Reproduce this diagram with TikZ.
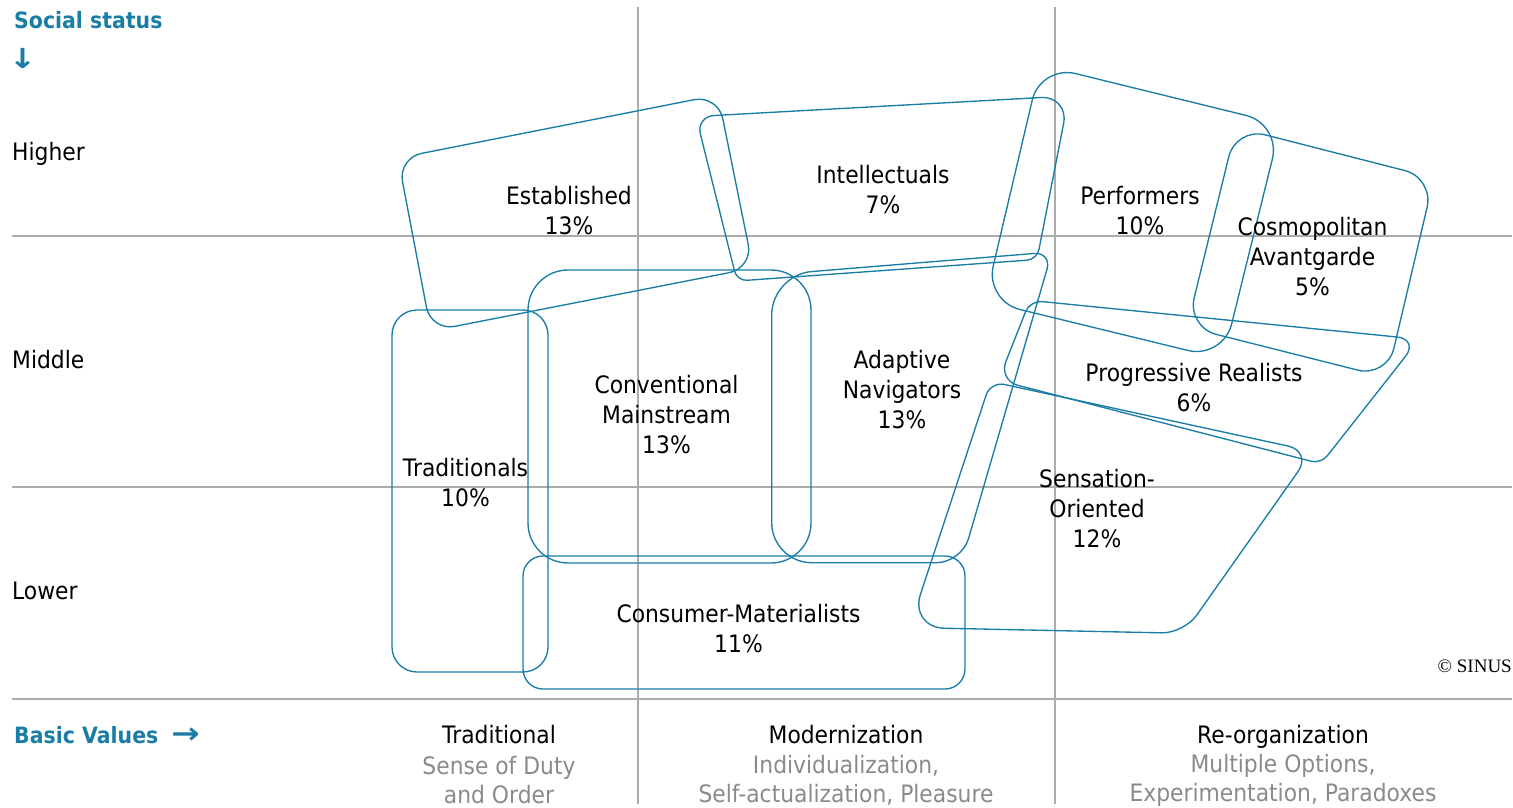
\documentclass[tikz,border=0pt]{standalone}
\usepackage{fontspec}
\setmainfont{DejaVu Sans}[FakeStretch=0.91]
\newfontfamily\serifsinus{Liberation Serif}
\usetikzlibrary{calc}
\definecolor{sblue}{RGB}{25,125,165}
\definecolor{gline}{RGB}{172,172,172}
\definecolor{gtext}{RGB}{138,138,138}
% rounded quadrilateral: 4 corner coordinates, 4 radii
\newcommand\rquad[8]{%
  \draw[shp]
  ($(#1)!#5pt!(#2)$) -- ($(#2)!#6pt!(#1)$)
  .. controls ($(#2)!0.45*#6pt!(#1)$) and ($(#2)!0.45*#6pt!(#3)$) .. ($(#2)!#6pt!(#3)$)
  -- ($(#3)!#7pt!(#2)$)
  .. controls ($(#3)!0.45*#7pt!(#2)$) and ($(#3)!0.45*#7pt!(#4)$) .. ($(#3)!#7pt!(#4)$)
  -- ($(#4)!#8pt!(#3)$)
  .. controls ($(#4)!0.45*#8pt!(#3)$) and ($(#4)!0.45*#8pt!(#1)$) .. ($(#4)!#8pt!(#1)$)
  -- ($(#1)!#5pt!(#4)$)
  .. controls ($(#1)!0.45*#5pt!(#4)$) and ($(#1)!0.45*#5pt!(#2)$) .. ($(#1)!#5pt!(#2)$)
  -- cycle;}
\begin{document}
\begin{tikzpicture}[x=1pt,y=-1pt,
  shp/.style={draw=sblue,line width=1.35pt},
  gridline/.style={draw=gline,line width=1.6pt},
  lbl/.style={align=center,inner sep=0pt,font=\fontsize{24}{30}\selectfont},
  side/.style={inner sep=0pt,anchor=base west,font=\fontsize{24}{30}\selectfont},
  head/.style={inner sep=0pt,anchor=base west,text=sblue,font=\fontsize{22.5}{28}\selectfont\bfseries},
  coltitle/.style={inner sep=0pt,anchor=base,font=\fontsize{24}{30}\selectfont},
  coldesc/.style={align=center,inner sep=0pt,text=gtext,font=\fontsize{24}{29}\selectfont}]
\useasboundingbox (0,0) rectangle (1513,808);

% grid
\draw[gridline] (638,7) -- (638,804);
\draw[gridline] (1055,7) -- (1055,804);
\draw[gridline] (12,236) -- (1512,236);
\draw[gridline] (12,487) -- (1512,487);
\draw[gridline] (12,699) -- (1512,699);

% corner coordinates
\coordinate (e1) at (398,158);   \coordinate (e2) at (718,95);
\coordinate (e3) at (753,268);   \coordinate (e4) at (431,331);
\coordinate (i1) at (696,116.5); \coordinate (i2) at (1069,96);
\coordinate (i3) at (1037,259.5);\coordinate (i4) at (737,281);
\coordinate (p1) at (1040.5,65); \coordinate (p2) at (1281,124);
\coordinate (p3) at (1223,359);  \coordinate (p4) at (985,301);
\coordinate (c1) at (1236,127.4);\coordinate (c2) at (1434,178);
\coordinate (c3) at (1387,377.5);\coordinate (c4) at (1187,327);
\coordinate (g1) at (1030,300.4);\coordinate (g2) at (1419,339.2);
\coordinate (g3) at (1321,463.8);\coordinate (g4) at (998.5,380.3);
\coordinate (s1) at (990.6,381.5);\coordinate (s2) at (1312.3,451.3);
\coordinate (s3) at (1183.9,633.3);\coordinate (s4) at (909.5,627.5);
\coordinate (a1) at (771.7,274.8);\coordinate (a2) at (1052,252);
\coordinate (a3) at (961.5,562.7);\coordinate (a4) at (771.7,562.7);

% milieu shapes
\rquad{e1}{e2}{e3}{e4}{24}{24}{24}{24}
\rquad{i1}{i2}{i3}{i4}{18}{28}{10}{10}
\rquad{p1}{p2}{p3}{p4}{36}{36}{36}{36}
\rquad{c1}{c2}{c3}{c4}{30}{30}{30}{30}
\rquad{g1}{g2}{g3}{g4}{12}{22}{10}{20}
\rquad{s1}{s2}{s3}{s4}{14}{25}{22}{35}
\rquad{a1}{a2}{a3}{a4}{40}{18}{25}{40}
\draw[shp,rounded corners=40pt] (528,270) rectangle (811,563);
\draw[shp,rounded corners=25pt] (392,310) rectangle (548,672);
\draw[shp,rounded corners=20pt] (523,556) rectangle (965,689);

% milieu labels
\node[lbl] (est) at (569,211) {Established\\13\%};
\node[lbl] (int) at (883,190) {Intellectuals\\7\%};
\node[lbl] (per) at (1140,211) {Performers\\10\%};
\node[lbl] (cos) at (1312.5,256.7) {Cosmopolitan\\Avantgarde\\5\%};
\node[lbl] (pro) at (1194,387.5) {Progressive Realists\\6\%};
\node[lbl] (ada) at (902,390) {Adaptive\\Navigators\\13\%};
\node[lbl] (con) at (666.5,415) {Conventional\\Mainstream\\13\%};
\node[lbl] (tra) at (465.5,482.3) {Traditionals\\10\%};
\node[lbl] (sen) at (1097,508.3) {Sensation-\\Oriented\\12\%};
\node[lbl] (cmm) at (738.5,629) {Consumer-Materialists\\11\%};

% axis labels
\node[head] (soc) at (14,29) {Social status};
\node[inner sep=0pt,text=sblue,font=\fontsize{24}{30}\selectfont\bfseries] (darr) at (22.5,58.5) {\scalebox{1.5}[1.15]{↓}};
\node[side] (hig) at (12,160) {Higher};
\node[side] (mid) at (12,368.5) {Middle};
\node[side] (low) at (12,599.5) {Lower};
\node[head] (bas) at (14,743.5) {Basic Values};
\node[inner sep=0pt,text=sblue,font=\fontsize{24}{30}\selectfont\bfseries] (rarr) at (185.5,735.5) {\scalebox{1.55}[1.2]{→}};

% value columns
\node[coltitle] (t1) at (499,743) {Traditional};
\node[coldesc] (d1) at (499,780.5) {Sense of Duty\\and Order};
\node[coltitle] (t2) at (846,743) {Modernization};
\node[coldesc] (d2) at (846,780.5) {Individualization,\\Self-actualization, Pleasure};
\node[coltitle] (t3) at (1283,743) {Re-organization};
\node[coldesc] (d3) at (1283,780.5) {Multiple Options,\\Experimentation, Paradoxes};

\node[inner sep=0pt,anchor=east,font=\serifsinus\fontsize{19}{21}\selectfont] (cpy) at (1512,666) {© SINUS};
\end{tikzpicture}
\end{document}
